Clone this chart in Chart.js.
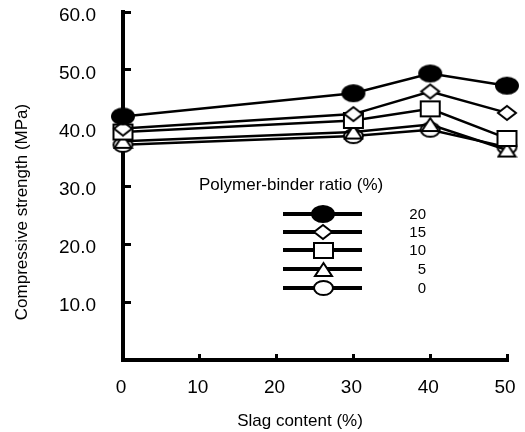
<!DOCTYPE html>
<html><head><meta charset="utf-8">
<script src="https://cdn.jsdelivr.net/npm/chart.js@4"></script>
<style>html,body{margin:0;padding:0;background:#fff;}</style>
</head><body>
<canvas id="c" width="525" height="432"></canvas>
<script>
// ---- data ----
const slagContent = [0, 30, 40, 50];
const ratio20 = [42.0, 46.0, 49.4, 47.3];
const ratio15 = [39.9, 42.4, 46.3, 42.6];
const ratio10 = [39.3, 41.3, 43.3, 38.2];
const ratio5  = [37.7, 39.3, 40.6, 36.2];
const ratio0  = [37.1, 38.6, 39.7, 36.7];
const seriesLabels = ['20', '15', '10', '5', '0'];
const yTickValues = [0, 10, 20, 30, 40, 50, 60];
const xTickValues = [0, 10, 20, 30, 40, 50];
const xTitle = 'Slag content (%)';
const yTitle = 'Compressive strength (MPa)';
const legendTitle = 'Polymer-binder ratio (%)';

const FONT = "'Liberation Sans', Arial, sans-serif";

function makeMarker(shape, w, h, filled) {
  const pad = 2;
  const c = document.createElement('canvas');
  c.width = w + pad * 2; c.height = h + pad * 2;
  const g = c.getContext('2d');
  const cx = c.width / 2, cy = c.height / 2;
  g.beginPath();
  if (shape === 'ellipse') {
    g.ellipse(cx, cy, w / 2, h / 2, 0, 0, Math.PI * 2);
  } else if (shape === 'diamond') {
    g.moveTo(cx, cy - h / 2); g.lineTo(cx + w / 2, cy); g.lineTo(cx, cy + h / 2); g.lineTo(cx - w / 2, cy); g.closePath();
  } else if (shape === 'square') {
    g.rect(cx - w / 2, cy - h / 2, w, h);
  } else if (shape === 'triangle') {
    g.moveTo(cx, cy - h / 2); g.lineTo(cx + w / 2, cy + h / 2); g.lineTo(cx - w / 2, cy + h / 2); g.closePath();
  }
  g.fillStyle = filled ? '#000' : '#fff';
  g.fill();
  g.lineWidth = 2;
  g.strokeStyle = '#000';
  g.stroke();
  return c;
}

const markers = [
  makeMarker('ellipse', 22, 16, true),
  makeMarker('diamond', 18, 14, false),
  makeMarker('square', 19, 15, false),
  makeMarker('triangle', 17, 13, false),
  makeMarker('ellipse', 19, 14, false)
];
const seriesData = [ratio20, ratio15, ratio10, ratio5, ratio0];

const datasets = seriesData.map((arr, i) => ({
  label: seriesLabels[i],
  data: slagContent.map((x, j) => ({ x: x, y: arr[j] })),
  borderColor: '#000',
  backgroundColor: '#000',
  borderWidth: 2.5,
  pointStyle: markers[i],
  pointRadius: 8,
  tension: 0,
  fill: false,
  clip: false
}));

const annotations = {
  id: 'annotations',
  afterDraw(chart) {
    const ctx = chart.ctx;
    ctx.save();
    ctx.fillStyle = '#000';
    ctx.font = '17px ' + FONT;
    ctx.textAlign = 'center';
    ctx.textBaseline = 'middle';
    // x title
    ctx.fillText(xTitle, 300, 421);
    // y title
    ctx.save();
    ctx.translate(22, 212);
    ctx.rotate(-Math.PI / 2);
    ctx.fillText(yTitle, 0, 0);
    ctx.restore();
    // legend
    ctx.font = '17px ' + FONT;
    ctx.textAlign = 'left';
    ctx.fillText(legendTitle, 199, 185);
    ctx.font = '15px ' + FONT;
    const rows = [214, 232, 250, 269, 288];
    rows.forEach((y, i) => {
      ctx.beginPath();
      ctx.moveTo(283, y); ctx.lineTo(362, y);
      ctx.lineWidth = 4; ctx.strokeStyle = '#000';
      ctx.stroke();
      const m = markers[i];
      ctx.drawImage(m, Math.round(323 - m.width / 2), Math.round(y - m.height / 2));
      ctx.textAlign = 'right';
      ctx.fillText(seriesLabels[i], 426, y + 1);
    });
    ctx.restore();
  }
};

new Chart(document.getElementById('c'), {
  type: 'line',
  data: { datasets },
  plugins: [annotations],
  options: {
    responsive: false,
    animation: false,
    events: [],
    layout: { padding: { top: 12, right: 18, left: 0, bottom: 0 } },
    plugins: { legend: { display: false }, tooltip: { enabled: false } },
    scales: {
      x: {
        type: 'linear', min: 0, max: 50,
        afterBuildTicks: s => { s.ticks = xTickValues.map(v => ({ value: v })); },
        afterFit: s => { s.height = 72; s.paddingLeft = 0; s.paddingRight = 0; },
        border: { display: true, color: '#000', width: 4 },
        grid: { drawOnChartArea: false, drawTicks: true, tickLength: -6, color: '#000', lineWidth: 3 },
        ticks: { color: '#000', padding: 22, labelOffset: -2, maxRotation: 0, font: { size: 19, family: FONT }, callback: v => String(v) }
      },
      y: {
        type: 'linear', min: 0, max: 60,
        afterBuildTicks: s => { s.ticks = yTickValues.map(v => ({ value: v })); },
        afterFit: s => { s.width = 123; s.paddingTop = 0; s.paddingBottom = 0; },
        border: { display: true, color: '#000', width: 4 },
        grid: { drawOnChartArea: false, drawTicks: true, tickLength: -8, color: '#000', lineWidth: 3 },
        ticks: { color: '#000', padding: 35, labelOffset: 4, font: { size: 19, family: FONT }, callback: v => v === 0 ? '' : Number(v).toFixed(1) }
      }
    }
  }
});
</script>
</body></html>
